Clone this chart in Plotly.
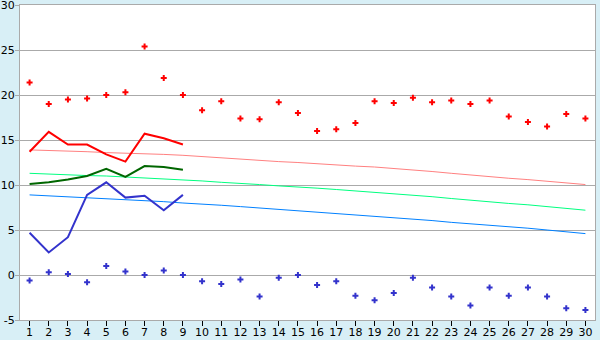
import plotly.graph_objects as go

days = list(range(1, 31))
tick_labels = [str(d) for d in days]
y_ticks = [-5, 0, 5, 10, 15, 20, 25, 30]
y_tick_labels = ["-5", "0", "5", "10", "15", "20", "25", "30"]

max_temps = [21.4, 19.0, 19.5, 19.6, 20.0, 20.3, 25.4, 21.9, 20.0, 18.3,
             19.3, 17.4, 17.3, 19.2, 18.0, 16.0, 16.2, 16.9, 19.3, 19.1,
             19.7, 19.2, 19.4, 19.0, 19.4, 17.6, 17.0, 16.5, 17.9, 17.4]
min_temps = [-0.6, 0.3, 0.1, -0.8, 1.0, 0.4, 0.0, 0.5, 0.0, -0.7,
             -1.0, -0.5, -2.4, -0.3, 0.0, -1.1, -0.7, -2.3, -2.8, -2.0,
             -0.3, -1.4, -2.4, -3.4, -1.4, -2.3, -1.4, -2.4, -3.7, -3.9]

line_days = list(range(1, 10))
max_line = [13.7, 15.9, 14.5, 14.5, 13.4, 12.6, 15.7, 15.2, 14.5]
mean_line = [10.1, 10.3, 10.6, 11.0, 11.8, 10.9, 12.1, 12.0, 11.7]
min_line = [4.7, 2.5, 4.2, 8.9, 10.3, 8.6, 8.8, 7.2, 8.9]

normal_max = [13.9, 13.85, 13.75, 13.7, 13.6, 13.55, 13.45, 13.4, 13.3, 13.15,
              13.0, 12.9, 12.75, 12.6, 12.5, 12.35, 12.25, 12.1, 12.0, 11.85,
              11.65, 11.5, 11.3, 11.1, 10.9, 10.75, 10.6, 10.4, 10.25, 10.05]
normal_mean = [11.3, 11.2, 11.15, 11.05, 11.0, 10.9, 10.8, 10.7, 10.55, 10.45,
               10.3, 10.2, 10.05, 9.9, 9.8, 9.65, 9.5, 9.35, 9.15, 9.0,
               8.85, 8.7, 8.5, 8.3, 8.1, 7.95, 7.8, 7.6, 7.4, 7.2]
normal_min = [8.9, 8.8, 8.7, 8.6, 8.5, 8.4, 8.3, 8.15, 8.0, 7.9,
              7.75, 7.6, 7.45, 7.3, 7.15, 7.0, 6.85, 6.7, 6.5, 6.35,
              6.2, 6.05, 5.85, 5.7, 5.5, 5.35, 5.2, 5.0, 4.8, 4.6]

fig = go.Figure()
fig.add_trace(go.Scatter(x=days, y=normal_max, mode="lines",
                         line=dict(color="#ff8080", width=1)))
fig.add_trace(go.Scatter(x=days, y=normal_mean, mode="lines",
                         line=dict(color="#00ff80", width=1)))
fig.add_trace(go.Scatter(x=days, y=normal_min, mode="lines",
                         line=dict(color="#0080ff", width=1)))
fig.add_trace(go.Scatter(x=line_days, y=max_line, mode="lines",
                         line=dict(color="#ff0000", width=2)))
fig.add_trace(go.Scatter(x=line_days, y=mean_line, mode="lines",
                         line=dict(color="#006600", width=2)))
fig.add_trace(go.Scatter(x=line_days, y=min_line, mode="lines",
                         line=dict(color="#3333cc", width=2)))
fig.add_trace(go.Scatter(x=days, y=max_temps, mode="markers",
                         marker=dict(symbol="cross", size=5, color="#ff0000",
                                     line=dict(width=0))))
fig.add_trace(go.Scatter(x=days, y=min_temps, mode="markers",
                         marker=dict(symbol="cross", size=5, color="#3333cc",
                                     line=dict(width=0))))

fig.update_layout(
    width=600, height=340,
    margin=dict(l=20, r=5, t=5, b=20),
    paper_bgcolor="#d8eff6",
    plot_bgcolor="#ffffff",
    showlegend=False,
    font=dict(family="DejaVu Sans", size=11, color="#000000"),
)
fig.update_xaxes(range=[0.5, 30.5], tickmode="array", tickvals=days,
                 ticktext=tick_labels, showgrid=False, showline=True,
                 linecolor="#aaaaaa", linewidth=1, mirror=True,
                 ticks="outside", ticklen=5, tickcolor="#000000",
                 ticklabelstandoff=-3, ticklabeloverflow="allow",
                 zeroline=False, fixedrange=True, automargin=False)
fig.update_yaxes(range=[-5, 30], tickmode="array", tickvals=y_ticks,
                 ticktext=y_tick_labels,
                 showgrid=True, gridcolor="#aaaaaa", gridwidth=1,
                 showline=True, linecolor="#aaaaaa", linewidth=1, mirror=True,
                 ticks="outside", ticklen=4, tickcolor="#aaaaaa",
                 ticklabeloverflow="allow", ticklabelstandoff=-2,
                 zeroline=False, fixedrange=True, automargin=False)

fig.write_html("out.html", config={"displayModeBar": False})
